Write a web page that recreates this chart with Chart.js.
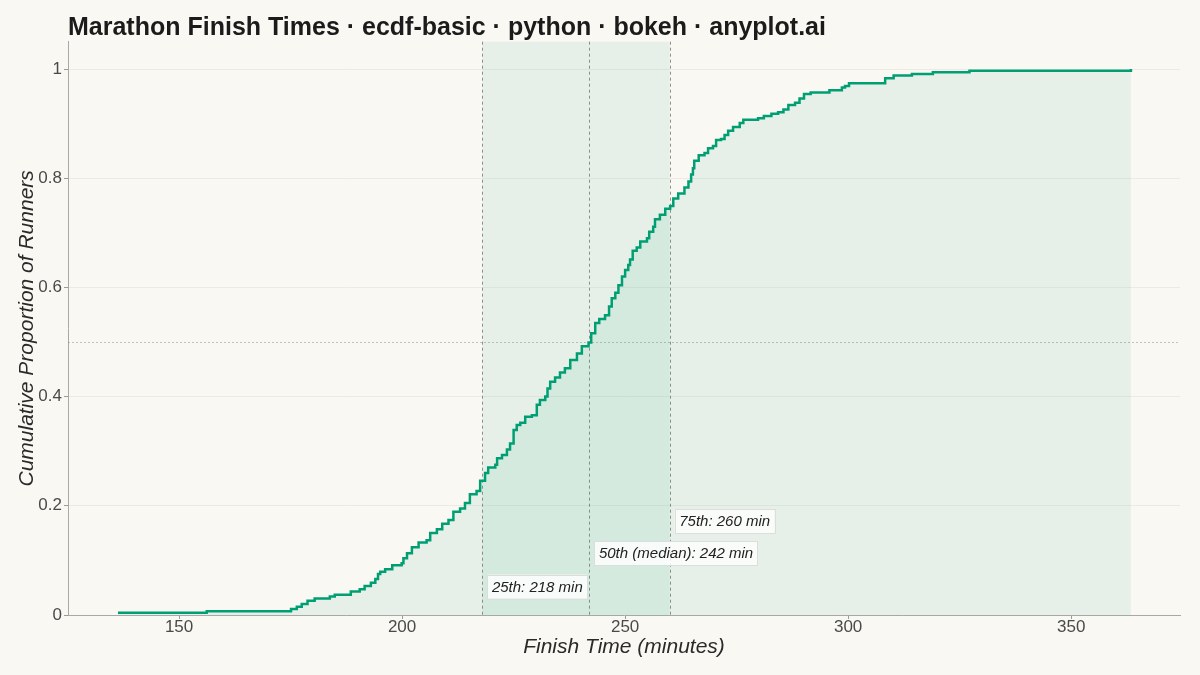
<!DOCTYPE html>
<html>
<head>
<meta charset="utf-8">
<title>Marathon Finish Times</title>
<script src="https://cdn.jsdelivr.net/npm/chart.js@4.4.1/dist/chart.umd.min.js"></script>
<style>
    html, body { margin: 0; padding: 0; background: #FAF8F2; }
    #contenedor { width: 1200px; height: 675px; }
</style>
</head>
<body>
<div id="contenedor"><canvas id="graficoEcdf" width="1200" height="675"></canvas></div>
<script>
// tiempos (min) donde sube la curva y proporcion acumulada alcanzada
const tiempos = [
    136.3, 156.2, 175.1, 176.4, 177.5, 178.8, 180.4, 183.8, 184.9, 188.5,
    190.5, 191.6, 193.0, 194.0, 194.6, 195.1, 196.2, 197.8, 199.9, 200.3,
    201.1, 202.2, 203.7, 205.5, 206.3, 207.8, 209.0, 210.4, 211.5, 213.0,
    214.1, 215.2, 216.7, 217.5, 218.6, 219.3, 220.9, 221.3, 222.4, 223.5,
    224.2, 225.0, 225.7, 226.5, 227.6, 229.1, 230.2, 230.9, 232.1, 232.6,
    233.2, 234.3, 235.4, 236.5, 237.7, 239.2, 240.3, 241.8, 242.4, 243.3,
    244.2, 245.5, 246.4, 247.0, 247.8, 248.5, 249.3, 250.0, 250.7, 251.1,
    251.7, 252.6, 253.4, 254.9, 255.4, 256.3, 256.7, 257.8, 259.0, 260.1,
    260.8, 261.9, 263.3, 264.2, 264.8, 265.2, 265.5, 266.5, 267.8, 268.6,
    269.7, 270.4, 271.5, 272.3, 273.1, 274.2, 275.7, 276.5, 279.8, 281.1,
    282.8, 284.3, 285.5, 286.6, 288.1, 289.1, 290.1, 291.6, 295.8, 298.6,
    299.3, 300.2, 308.3, 310.2, 314.3, 319.0, 327.2, 363.4
];
const proporcion = [
    0.004, 0.007, 0.011, 0.015, 0.020, 0.026, 0.030, 0.034, 0.037, 0.043,
    0.047, 0.053, 0.059, 0.066, 0.075, 0.079, 0.084, 0.091, 0.095, 0.104,
    0.113, 0.124, 0.133, 0.137, 0.150, 0.157, 0.167, 0.174, 0.189, 0.195,
    0.205, 0.221, 0.227, 0.246, 0.260, 0.270, 0.275, 0.287, 0.293, 0.303,
    0.314, 0.339, 0.348, 0.352, 0.363, 0.366, 0.385, 0.394, 0.400, 0.415,
    0.427, 0.435, 0.444, 0.452, 0.467, 0.479, 0.492, 0.499, 0.516, 0.535,
    0.542, 0.549, 0.565, 0.580, 0.590, 0.604, 0.620, 0.632, 0.641, 0.651,
    0.667, 0.673, 0.684, 0.690, 0.702, 0.711, 0.725, 0.733, 0.744, 0.749,
    0.763, 0.772, 0.783, 0.794, 0.807, 0.818, 0.832, 0.842, 0.846, 0.855,
    0.859, 0.870, 0.872, 0.879, 0.887, 0.894, 0.901, 0.907, 0.910, 0.914,
    0.918, 0.921, 0.926, 0.934, 0.938, 0.946, 0.954, 0.957, 0.961, 0.966,
    0.969, 0.974, 0.983, 0.988, 0.991, 0.994, 0.997, 1.000
];
const percentiles = [218, 242, 260];
const etiquetasPercentil = ["25th: 218 min", "50th (median): 242 min", "75th: 260 min"];
const ticksX = [150, 200, 250, 300, 350];
const ticksY = [0, 0.2, 0.4, 0.6, 0.8, 1];

const titulo = "Marathon Finish Times \u00b7 ecdf-basic \u00b7 python \u00b7 bokeh \u00b7 anyplot.ai";
const tituloX = "Finish Time (minutes)";
const tituloY = "Cumulative Proportion of Runners";

const verde = "#009E73";
const fuente = "'Liberation Sans', Arial, sans-serif";

// banda IQR, lineas de percentiles y la referencia en 0.5
const pluginFondo = {
    id: "fondo",
    beforeDatasetsDraw: function(chart){
        const ctx = chart.ctx;
        const area = chart.chartArea;
        const x = chart.scales.x;
        const y = chart.scales.y;
        ctx.save();
        const x1 = x.getPixelForValue(percentiles[0]);
        const x2 = x.getPixelForValue(percentiles[2]);
        ctx.fillStyle = "rgba(0,158,115,0.08)";
        ctx.fillRect(x1, area.top, x2 - x1, area.bottom - area.top);

        ctx.strokeStyle = "rgba(110,110,110,0.75)";
        ctx.lineWidth = 1;
        ctx.setLineDash([3, 3]);
        percentiles.forEach(function(p){
            const px = Math.round(x.getPixelForValue(p)) + 0.5;
            ctx.beginPath();
            ctx.moveTo(px, area.top);
            ctx.lineTo(px, area.bottom);
            ctx.stroke();
        });

        ctx.strokeStyle = "rgba(140,140,140,0.5)";
        ctx.setLineDash([2, 2]);
        const py = Math.round(y.getPixelForValue(0.5)) + 0.5;
        ctx.beginPath();
        ctx.moveTo(area.left, py);
        ctx.lineTo(area.right, py);
        ctx.stroke();
        ctx.restore();
    }
};

const pluginTextos = {
    id: "textos",
    afterDraw: function(chart){
        const ctx = chart.ctx;
        const area = chart.chartArea;
        const x = chart.scales.x;
        const y = chart.scales.y;
        ctx.save();

        // titulo
        ctx.fillStyle = "#1b1b1b";
        ctx.font = "bold 25px " + fuente;
        ctx.textAlign = "left";
        ctx.textBaseline = "alphabetic";
        ctx.fillText(titulo, area.left, 35);

        // titulos de ejes
        ctx.fillStyle = "#2a2a2a";
        ctx.font = "italic 21px " + fuente;
        ctx.textAlign = "center";
        ctx.textBaseline = "middle";
        ctx.fillText(tituloX, (area.left + area.right) / 2, 647);
        ctx.save();
        ctx.translate(27, (area.top + area.bottom) / 2);
        ctx.rotate(-Math.PI / 2);
        ctx.fillText(tituloY, 0, 0);
        ctx.restore();

        // etiquetas de percentiles
        const alturas = [0.052, 0.113, 0.172];
        ctx.font = "italic 15px " + fuente;
        ctx.textAlign = "left";
        etiquetasPercentil.forEach(function(texto, i){
            const px = x.getPixelForValue(percentiles[i]) + 5;
            const py = y.getPixelForValue(alturas[i]);
            const ancho = ctx.measureText(texto).width + 9;
            ctx.fillStyle = "rgba(255,255,255,0.8)";
            ctx.fillRect(px, py - 12, ancho, 24);
            ctx.strokeStyle = "#dddddd";
            ctx.lineWidth = 1;
            ctx.strokeRect(Math.round(px) + 0.5, Math.round(py - 12) + 0.5, Math.round(ancho), 24);
            ctx.fillStyle = "#222222";
            ctx.fillText(texto, px + 4.5, py + 1);
        });
        ctx.restore();
    }
};

function crearGrafico(){
    const ctx = document.getElementById("graficoEcdf");
    const puntos = tiempos.map(function(t, i){
        return { x: t, y: proporcion[i] };
    });

    const datasets = [
        {
            data: puntos,
            stepped: "before",
            borderColor: verde,
            borderWidth: 2.5,
            backgroundColor: "rgba(0,158,115,0.08)",
            fill: "origin",
            pointRadius: 0
        }
    ];

    const options = {
        responsive: false,
        animation: false,
        events: [],
        layout: {
            padding: { left: 0, right: 20, top: 41.7, bottom: 0 }
        },
        plugins: {
            legend: { display: false },
            tooltip: { enabled: false },
            title: { display: false }
        },
        scales: {
            x: {
                type: "linear",
                min: 125.1,
                max: 374.4,
                afterBuildTicks: function(scale){
                    scale.ticks = ticksX.map(function(v){ return { value: v }; });
                },
                afterFit: function(scale){
                    scale.height = 60;
                },
                grid: {
                    drawOnChartArea: false,
                    tickLength: 4,
                    tickColor: "#9a9a9a"
                },
                border: { color: "#a8a8a8", width: 1 },
                ticks: {
                    color: "#4a4a4a",
                    padding: -2,
                    maxRotation: 0,
                    font: { family: fuente, size: 17 },
                    callback: function(v){ return String(v); }
                }
            },
            y: {
                type: "linear",
                min: 0,
                max: 1.05,
                afterBuildTicks: function(scale){
                    scale.ticks = ticksY.map(function(v){ return { value: v }; });
                },
                afterFit: function(scale){
                    scale.width = 68;
                },
                grid: {
                    color: "rgba(0,0,0,0.055)",
                    tickLength: 4,
                    tickColor: "#9a9a9a"
                },
                border: { color: "#a8a8a8", width: 1 },
                ticks: {
                    color: "#4a4a4a",
                    padding: 2,
                    font: { family: fuente, size: 17 },
                    callback: function(v){ return String(Number(v.toFixed(1))); }
                }
            }
        }
    };

    Chart.defaults.font.family = fuente;
    new Chart(ctx, {
        type: "line",
        data: { datasets: datasets },
        options: options,
        plugins: [pluginFondo, pluginTextos]
    });
}

crearGrafico();
</script>
</body>
</html>
